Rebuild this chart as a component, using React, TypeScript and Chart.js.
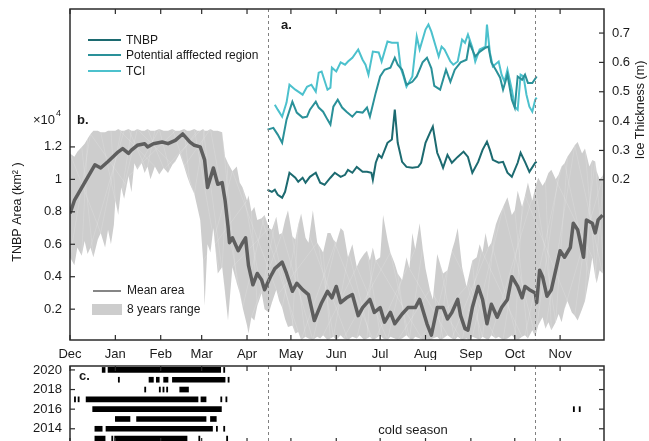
import React, { useEffect, useRef } from "react";
import { Chart, registerables } from "chart.js";

Chart.register(...registerables);

const FONT = "'Liberation Sans', Arial, Helvetica, sans-serif";

// ---------------- data ----------------
const monthLabels = ["Dec", "Jan", "Feb", "Mar", "Apr", "May", "Jun", "Jul", "Aug", "Sep", "Oct", "Nov"];
const monthStartDays = [0, 31, 62, 90, 121, 151, 182, 212, 243, 274, 304, 335];
const seasonBoundaryDays = [135, 318];
const areaTickValues = [0.2, 0.4, 0.6, 0.8, 1, 1.2];
const thicknessTickValues = [0.2, 0.3, 0.4, 0.5, 0.6, 0.7];
const yearTickValues = [2014, 2016, 2018, 2020];

// Mean TNBP area (x10^4 km^2), days since 1 Dec
const meanDays = [0, 3, 10, 17, 21, 26, 33, 36, 40, 42, 46, 51, 53, 57, 63, 67, 72, 77, 82, 85, 89, 92, 94, 98, 101, 104, 106, 108, 109, 111, 115, 118, 120, 122, 125, 128, 131, 133, 137, 140, 145, 148, 152, 155, 159, 163, 167, 172, 176, 179, 182, 185, 189, 193, 197, 200, 205, 208, 212, 215, 219, 222, 227, 231, 236, 239, 244, 247, 251, 255, 258, 261, 265, 267, 270, 272, 275, 279, 282, 285, 288, 292, 295, 299, 302, 306, 309, 311, 314, 318, 319, 321, 323, 326, 329, 332, 335, 338, 342, 344, 347, 351, 353, 357, 359, 361, 364];
const meanArea = [0.79, 0.87, 0.98, 1.09, 1.07, 1.11, 1.17, 1.19, 1.16, 1.18, 1.21, 1.22, 1.20, 1.22, 1.23, 1.22, 1.24, 1.28, 1.23, 1.21, 1.20, 1.12, 0.95, 1.07, 0.97, 0.98, 0.87, 0.71, 0.61, 0.64, 0.56, 0.61, 0.64, 0.47, 0.35, 0.42, 0.38, 0.32, 0.40, 0.45, 0.49, 0.42, 0.31, 0.36, 0.32, 0.29, 0.13, 0.24, 0.31, 0.27, 0.34, 0.24, 0.27, 0.29, 0.16, 0.21, 0.26, 0.18, 0.21, 0.12, 0.18, 0.11, 0.17, 0.21, 0.21, 0.26, 0.11, 0.04, 0.21, 0.21, 0.14, 0.18, 0.26, 0.16, 0.08, 0.07, 0.21, 0.34, 0.26, 0.11, 0.23, 0.15, 0.21, 0.26, 0.40, 0.34, 0.27, 0.34, 0.32, 0.30, 0.24, 0.44, 0.40, 0.28, 0.32, 0.44, 0.56, 0.52, 0.58, 0.73, 0.69, 0.52, 0.75, 0.73, 0.67, 0.75, 0.78];

// 8 years range (x10^4 km^2)
const rangeDays = [0, 3, 5, 8, 10, 12, 14, 16, 19, 21, 24, 26, 28, 30, 31, 33, 35, 37, 40, 42, 44, 46, 49, 51, 53, 55, 58, 61, 64, 67, 70, 72, 75, 78, 80, 82, 85, 87, 89, 91, 92, 94, 96, 98, 101, 104, 106, 108, 111, 114, 116, 118, 121, 122, 124, 126, 128, 131, 133, 136, 138, 141, 143, 145, 147, 149, 152, 154, 156, 158, 161, 163, 166, 169, 171, 173, 176, 178, 180, 182, 185, 187, 190, 193, 196, 198, 201, 203, 205, 207, 209, 212, 214, 217, 219, 222, 224, 227, 230, 232, 234, 236, 239, 241, 243, 246, 248, 251, 253, 255, 258, 261, 263, 265, 268, 271, 273, 275, 278, 280, 282, 284, 286, 288, 291, 293, 296, 299, 302, 304, 306, 309, 311, 313, 316, 318, 320, 323, 325, 327, 329, 332, 334, 336, 338, 340, 343, 345, 347, 350, 352, 355, 357, 359, 360, 362, 364, 365];
const rangeUpper = [1.16, 1.14, 1.17, 1.20, 1.22, 1.25, 1.28, 1.30, 1.30, 1.29, 1.29, 1.30, 1.30, 1.30, 1.30, 1.31, 1.30, 1.30, 1.31, 1.30, 1.30, 1.31, 1.30, 1.30, 1.31, 1.30, 1.30, 1.31, 1.30, 1.30, 1.31, 1.30, 1.30, 1.31, 1.30, 1.30, 1.31, 1.30, 1.30, 1.31, 1.30, 1.30, 1.31, 1.30, 1.30, 1.29, 1.14, 1.10, 1.05, 1.08, 0.98, 0.95, 0.87, 0.90, 0.80, 0.83, 0.75, 0.76, 0.78, 0.70, 0.69, 0.77, 0.66, 0.67, 0.75, 0.81, 0.65, 0.63, 0.72, 0.79, 0.64, 0.61, 0.81, 0.61, 0.58, 0.55, 0.67, 0.67, 0.63, 0.61, 0.70, 0.68, 0.52, 0.60, 0.46, 0.50, 0.54, 0.56, 0.50, 0.58, 0.50, 0.52, 0.78, 0.63, 0.55, 0.48, 0.42, 0.38, 0.52, 0.45, 0.67, 0.57, 0.73, 0.58, 0.45, 0.32, 0.26, 0.54, 0.48, 0.42, 0.44, 0.56, 0.62, 0.70, 0.46, 0.34, 0.42, 0.50, 0.52, 0.60, 0.55, 0.67, 0.58, 0.61, 0.72, 0.77, 0.83, 0.89, 0.78, 0.81, 0.93, 0.83, 0.90, 0.98, 0.87, 0.95, 1.01, 0.96, 0.99, 1.04, 1.06, 1.00, 1.03, 1.08, 1.10, 1.14, 1.18, 1.21, 1.23, 1.16, 1.19, 1.08, 1.12, 1.11, 1.05, 1.00, 1.02, 1.04];
const rangeLower = [0.52, 0.47, 0.58, 0.53, 0.62, 0.54, 0.58, 0.52, 0.63, 0.67, 0.58, 0.69, 0.60, 0.72, 0.87, 0.78, 0.95, 0.88, 1.02, 0.92, 1.10, 1.06, 1.10, 1.04, 1.08, 1.00, 1.08, 1.03, 1.07, 1.04, 1.09, 1.11, 1.16, 1.08, 1.02, 0.97, 0.91, 0.83, 0.75, 0.50, 0.22, 0.60, 0.55, 0.70, 0.42, 0.46, 0.30, 0.13, 0.46, 0.36, 0.30, 0.21, 0.10, 0.05, 0.15, 0.13, 0.22, 0.30, 0.20, 0.18, 0.24, 0.32, 0.25, 0.21, 0.14, 0.09, 0.10, 0.05, 0.06, 0.01, 0.03, 0.02, 0.01, 0.03, 0.02, 0.04, 0.01, 0.02, 0.03, 0.01, 0.04, 0.02, 0.01, 0.03, 0.02, 0.04, 0.01, 0.02, 0.03, 0.01, 0.02, 0.04, 0.02, 0.01, 0.03, 0.02, 0.01, 0.02, 0.04, 0.02, 0.01, 0.03, 0.02, 0.01, 0.02, 0.01, 0.02, 0.03, 0.01, 0.02, 0.04, 0.02, 0.01, 0.03, 0.01, 0.02, 0.01, 0.03, 0.02, 0.01, 0.03, 0.02, 0.01, 0.04, 0.02, 0.03, 0.01, 0.02, 0.04, 0.02, 0.01, 0.03, 0.04, 0.02, 0.07, 0.03, 0.10, 0.15, 0.08, 0.12, 0.07, 0.12, 0.17, 0.12, 0.20, 0.25, 0.18, 0.16, 0.13, 0.20, 0.25, 0.40, 0.52, 0.40, 0.36, 0.44, 0.42, 0.45];

// Ice thickness (m), 15 Apr - 15 Oct
const tnbpDays = [135, 138, 140, 142, 145, 147, 150, 154, 156, 159, 161, 164, 168, 171, 174, 178, 181, 185, 188, 190, 193, 196, 200, 203, 206, 207, 209, 211, 213, 217, 220, 222, 224, 227, 230, 234, 238, 240, 243, 246, 248, 251, 253, 255, 258, 261, 265, 269, 272, 275, 279, 282, 285, 287, 289, 293, 296, 299, 302, 306, 308, 311, 314, 318, 319];
const tnbpThickness = [0.166, 0.159, 0.166, 0.149, 0.139, 0.159, 0.224, 0.207, 0.193, 0.207, 0.19, 0.21, 0.224, 0.19, 0.183, 0.207, 0.224, 0.21, 0.217, 0.234, 0.224, 0.244, 0.227, 0.227, 0.224, 0.2, 0.258, 0.285, 0.275, 0.326, 0.337, 0.439, 0.326, 0.261, 0.244, 0.241, 0.244, 0.258, 0.326, 0.36, 0.381, 0.292, 0.268, 0.241, 0.285, 0.258, 0.278, 0.296, 0.278, 0.224, 0.261, 0.302, 0.33, 0.302, 0.268, 0.258, 0.261, 0.224, 0.21, 0.258, 0.292, 0.261, 0.227, 0.258, 0.261];

const regionDays = [135, 139, 142, 145, 148, 152, 155, 159, 162, 164, 168, 170, 173, 176, 178, 180, 183, 186, 189, 193, 196, 200, 203, 205, 209, 212, 215, 219, 222, 224, 227, 230, 234, 237, 241, 244, 247, 249, 253, 257, 260, 263, 267, 271, 273, 277, 280, 284, 286, 288, 291, 294, 296, 299, 302, 304, 306, 309, 311, 313, 316, 319];
const regionThickness = [0.371, 0.377, 0.354, 0.326, 0.405, 0.466, 0.429, 0.412, 0.415, 0.439, 0.466, 0.446, 0.432, 0.405, 0.388, 0.449, 0.473, 0.446, 0.432, 0.415, 0.432, 0.429, 0.446, 0.415, 0.497, 0.552, 0.575, 0.582, 0.616, 0.592, 0.575, 0.524, 0.534, 0.552, 0.60, 0.616, 0.58, 0.52, 0.507, 0.575, 0.534, 0.575, 0.60, 0.609, 0.667, 0.62, 0.636, 0.65, 0.654, 0.60, 0.575, 0.548, 0.507, 0.558, 0.473, 0.446, 0.552, 0.541, 0.558, 0.53, 0.53, 0.552];

const tciDays = [140, 142, 145, 148, 150, 154, 157, 159, 162, 165, 168, 170, 172, 176, 178, 179, 182, 185, 188, 190, 193, 197, 200, 202, 204, 207, 211, 213, 217, 220, 224, 226, 228, 230, 234, 237, 239, 243, 245, 247, 250, 252, 254, 256, 260, 262, 265, 268, 270, 272, 275, 277, 280, 284, 285, 287, 289, 293, 295, 297, 299, 302, 304, 306, 308, 310, 312, 314, 316, 318, 319];
const tciThickness = [0.456, 0.439, 0.415, 0.463, 0.524, 0.507, 0.497, 0.49, 0.517, 0.524, 0.5, 0.565, 0.569, 0.507, 0.514, 0.582, 0.569, 0.6, 0.592, 0.603, 0.616, 0.644, 0.609, 0.592, 0.558, 0.637, 0.634, 0.603, 0.671, 0.667, 0.667, 0.582, 0.552, 0.517, 0.552, 0.688, 0.644, 0.712, 0.729, 0.705, 0.654, 0.62, 0.654, 0.644, 0.603, 0.592, 0.603, 0.678, 0.667, 0.695, 0.651, 0.603, 0.644, 0.654, 0.729, 0.634, 0.586, 0.603, 0.558, 0.534, 0.575, 0.507, 0.449, 0.439, 0.558, 0.552, 0.49, 0.449, 0.432, 0.473, 0.48];

// Panel c: ice-cover events per year (start / end day)
const eventYears = [2020, 2020, 2020, 2019, 2019, 2019, 2019, 2019, 2019, 2018, 2018, 2018, 2018, 2018, 2017, 2017, 2017, 2017, 2017, 2017, 2016, 2016, 2016, 2015, 2015, 2015, 2014, 2014, 2014, 2014, 2013, 2013, 2013, 2013, 2013];
const eventStart = [22, 26, 105, 33, 54, 59, 64, 70, 108, 51, 61, 63.5, 66, 75, 3, 5.5, 11, 89.5, 103, 106.5, 15.5, 344, 348, 31, 45.5, 96, 17, 24.6, 100, 105, 17, 28.5, 30.5, 88, 107];
const eventEnd = [24, 103, 105.8, 33.8, 57, 61, 67, 106, 108.8, 51.8, 61.8, 64.3, 66.8, 81, 3.8, 6.3, 87.5, 93, 103.8, 107.3, 103.5, 344.8, 348.8, 41, 93, 100, 22, 97.4, 100.8, 105.8, 24, 29.3, 80, 88.8, 107.8];

// ---------------- styles ----------------
const COLOR_TNBP = "#1c6a70";
const COLOR_REGION = "#2a9199";
const COLOR_TCI = "#4cc1cd";
const COLOR_MEAN = "#5e5e5e";
const COLOR_BAND = "#cdcdcd";
const COLOR_FRAME = "#2b2b2b";
const COLOR_TEXT = "#1a1a1a";

const toPoints = (xs: number[], ys: number[]) => xs.map((x, i) => ({ x, y: ys[i] }));

function seg(ctx: CanvasRenderingContext2D, x1: number, y1: number, x2: number, y2: number) {
  ctx.beginPath();
  ctx.moveTo(x1, y1);
  ctx.lineTo(x2, y2);
  ctx.stroke();
}

const bandMesh = {
  id: "bandMesh",
  afterDatasetDraw(chart: any, args: any) {
    if (args.index !== 4) return;
    const { ctx, scales } = chart;
    const x = scales.x, y = scales.y;
    const up = rangeDays.map((d, i) => [x.getPixelForValue(d), y.getPixelForValue(rangeUpper[i])]);
    const lo = rangeDays.map((d, i) => [x.getPixelForValue(d), y.getPixelForValue(rangeLower[i])]);
    ctx.save();
    ctx.beginPath();
    up.forEach((p, i) => (i ? ctx.lineTo(p[0], p[1]) : ctx.moveTo(p[0], p[1])));
    for (let i = lo.length - 1; i >= 0; i--) ctx.lineTo(lo[i][0], lo[i][1]);
    ctx.closePath();
    ctx.clip();
    ctx.strokeStyle = "rgba(255,255,255,0.3)";
    ctx.lineWidth = 0.5;
    const n = up.length;
    const offs = [9, 4, 13, 6, 2, 11, 7];
    for (let i = 0, c = 0; i < n; i += 3, c++) {
      const j = Math.min(n - 1, i + offs[c % offs.length]);
      seg(ctx, up[i][0], up[i][1], lo[j][0], lo[j][1]);
      const k = Math.min(n - 1, i + offs[(c + 3) % offs.length]);
      seg(ctx, lo[i][0], lo[i][1], up[k][0], up[k][1]);
    }
    ctx.restore();
  },
};

const mainDecor = {
  id: "mainDecor",
  afterDraw(chart: any) {
    const { ctx, chartArea, scales } = chart;
    const { left, top, right, bottom } = chartArea;
    const x = scales.x, y = scales.y, y2 = scales.y2;
    ctx.save();
    // season boundaries
    ctx.strokeStyle = "#808080";
    ctx.lineWidth = 1;
    ctx.setLineDash([3, 3]);
    seasonBoundaryDays.forEach((d) => {
      const px = Math.round(x.getPixelForValue(d)) + 0.5;
      seg(ctx, px, top, px, bottom);
    });
    ctx.setLineDash([]);
    // frame and inward ticks
    ctx.strokeStyle = COLOR_FRAME;
    ctx.lineWidth = 1.5;
    ctx.strokeRect(left, top, right - left, bottom - top);
    ctx.lineWidth = 1.2;
    monthStartDays.forEach((d) => {
      const px = x.getPixelForValue(d);
      seg(ctx, px, bottom, px, bottom - 5);
      seg(ctx, px, top, px, top + 5);
    });
    areaTickValues.forEach((v) => {
      const py = y.getPixelForValue(v);
      seg(ctx, left, py, left + 5, py);
    });
    thicknessTickValues.forEach((v) => {
      const py = y2.getPixelForValue(v);
      seg(ctx, right, py, right - 5, py);
    });

    // tick labels
    ctx.fillStyle = COLOR_TEXT;
    ctx.font = `13px ${FONT}`;
    ctx.textBaseline = "middle";
    ctx.textAlign = "center";
    monthStartDays.forEach((d, i) => ctx.fillText(monthLabels[i], x.getPixelForValue(d), bottom + 14));
    ctx.textAlign = "right";
    areaTickValues.forEach((v) => ctx.fillText(String(v), left - 8, y.getPixelForValue(v)));
    ctx.textAlign = "left";
    thicknessTickValues.forEach((v) => ctx.fillText(v.toFixed(1), right + 8, y2.getPixelForValue(v)));

    // panel labels
    ctx.font = `bold 13px ${FONT}`;
    ctx.fillText("a.", 281, 25);
    ctx.fillText("b.", 77, 120);

    // x10^4
    ctx.font = `13px ${FONT}`;
    ctx.fillText("\u00d710", 33, 120);
    ctx.font = `9px ${FONT}`;
    ctx.fillText("4", 56, 114);

    // legend a
    const legA = [
      ["TNBP", COLOR_TNBP, 41],
      ["Potential afffected region", COLOR_REGION, 56],
      ["TCI", COLOR_TCI, 72],
    ] as [string, string, number][];
    legA.forEach(([label, color, ly]) => {
      ctx.strokeStyle = color;
      ctx.lineWidth = 2;
      seg(ctx, 88, ly - 1, 121, ly - 1);
      ctx.fillStyle = COLOR_TEXT;
      ctx.font = `12px ${FONT}`;
      ctx.fillText(label, 126, ly);
    });

    // legend b
    ctx.strokeStyle = COLOR_MEAN;
    ctx.lineWidth = 1.5;
    seg(ctx, 93, 291, 121, 291);
    ctx.fillStyle = COLOR_BAND;
    ctx.fillRect(92, 304, 30, 11);
    ctx.fillStyle = COLOR_TEXT;
    ctx.font = `12px ${FONT}`;
    ctx.fillText("Mean area", 127, 291);
    ctx.fillText("8 years range", 127, 310);

    // axis titles
    ctx.font = `12.5px ${FONT}`;
    ctx.textAlign = "center";
    ctx.save();
    ctx.translate(18, 212);
    ctx.rotate(-Math.PI / 2);
    ctx.fillText("TNBP Area (km\u00b2 )", 0, 0);
    ctx.restore();
    ctx.save();
    ctx.translate(641, 110);
    ctx.rotate(-Math.PI / 2);
    ctx.fillText("Ice Thickness (m)", 0, 0);
    ctx.restore();
    ctx.restore();
  },
};

const timelineDecor = {
  id: "timelineDecor",
  afterDraw(chart: any) {
    const { ctx, chartArea, scales } = chart;
    const { left, top, right, bottom } = chartArea;
    const x = scales.x, y = scales.y;
    ctx.save();
    ctx.strokeStyle = "#808080";
    ctx.lineWidth = 1;
    ctx.setLineDash([3, 3]);
    seasonBoundaryDays.forEach((d) => {
      const px = Math.round(x.getPixelForValue(d)) + 0.5;
      seg(ctx, px, top, px, bottom);
    });
    ctx.setLineDash([]);
    ctx.strokeStyle = COLOR_FRAME;
    ctx.lineWidth = 1.5;
    ctx.strokeRect(left, top, right - left, bottom - top);
    ctx.lineWidth = 1.2;
    monthStartDays.forEach((d) => {
      const px = x.getPixelForValue(d);
      seg(ctx, px, top, px, top + 5);
      seg(ctx, px, bottom, px, bottom - 5);
    });
    yearTickValues.forEach((v) => {
      const py = y.getPixelForValue(v);
      seg(ctx, left, py, left + 5, py);
      seg(ctx, right, py, right - 5, py);
    });
    ctx.fillStyle = COLOR_TEXT;
    ctx.textBaseline = "middle";
    ctx.font = `13px ${FONT}`;
    ctx.textAlign = "right";
    yearTickValues.forEach((v) => ctx.fillText(String(v), left - 8, y.getPixelForValue(v)));
    ctx.textAlign = "left";
    ctx.font = `bold 13px ${FONT}`;
    ctx.fillText("c.", 79, top + 10);
    ctx.font = `13px ${FONT}`;
    ctx.textAlign = "center";
    ctx.fillText("cold season", 413, top + 64);
    ctx.restore();
  },
};

export default function App() {
  const mainRef = useRef<HTMLCanvasElement>(null);
  const lineRef = useRef<HTMLCanvasElement>(null);

  useEffect(() => {
    const main = new Chart(mainRef.current!, {
      type: "line",
      data: {
        datasets: [
          { label: "TNBP", data: toPoints(tnbpDays, tnbpThickness), yAxisID: "y2", borderColor: COLOR_TNBP, borderWidth: 2, pointRadius: 0, fill: false },
          { label: "Potential afffected region", data: toPoints(regionDays, regionThickness), yAxisID: "y2", borderColor: COLOR_REGION, borderWidth: 2, pointRadius: 0, fill: false },
          { label: "TCI", data: toPoints(tciDays, tciThickness), yAxisID: "y2", borderColor: COLOR_TCI, borderWidth: 2, pointRadius: 0, fill: false },
          { label: "Mean area", data: toPoints(meanDays, meanArea), yAxisID: "y", borderColor: COLOR_MEAN, borderWidth: 3.5, pointRadius: 0, fill: false, borderJoinStyle: "round" },
          { label: "8 years range", data: toPoints(rangeDays, rangeUpper), yAxisID: "y", borderColor: "rgba(0,0,0,0)", borderWidth: 0, pointRadius: 0, backgroundColor: COLOR_BAND, fill: "+1" },
          { label: "range lower", data: toPoints(rangeDays, rangeLower), yAxisID: "y", borderColor: "rgba(0,0,0,0)", borderWidth: 0, pointRadius: 0, fill: false },
        ],
      },
      options: {
        responsive: false,
        animation: false,
        devicePixelRatio: 1,
        layout: { padding: { top: 9, left: 70, right: 45, bottom: 20 } },
        plugins: { legend: { display: false }, tooltip: { enabled: false } },
        elements: { line: { tension: 0 }, point: { radius: 0 } },
        scales: {
          x: { type: "linear", min: 0, max: 365, display: false },
          y: { type: "linear", position: "left", min: 0.01, max: 2.05, display: false },
          y2: { type: "linear", position: "right", min: -0.346, max: 0.782, display: false },
        },
      } as any,
      plugins: [bandMesh, mainDecor],
    });

    const timeline = new Chart(lineRef.current!, {
      type: "bar",
      data: {
        datasets: [
          {
            label: "ice events",
            data: eventYears.map((yr, i) => ({ x: [eventStart[i], eventEnd[i]], y: yr })) as any,
            backgroundColor: "#000000",
            borderWidth: 0,
            barThickness: 5,
          },
        ],
      },
      options: {
        indexAxis: "y",
        responsive: false,
        animation: false,
        devicePixelRatio: 1,
        layout: { padding: { top: 8, left: 70, right: 45, bottom: 5 } },
        plugins: { legend: { display: false }, tooltip: { enabled: false } },
        scales: {
          x: { type: "linear", min: 0, max: 365, display: false },
          y: { type: "linear", min: 2012.55, max: 2020.4, display: false, offset: false },
        },
      } as any,
      plugins: [timelineDecor],
    });

    return () => {
      main.destroy();
      timeline.destroy();
    };
  }, []);

  return (
    <div style={{ position: "absolute", left: 0, top: 0, width: 649, height: 441, overflow: "hidden", background: "#ffffff" }}>
      <canvas ref={mainRef} width={649} height={360} style={{ position: "absolute", left: 0, top: 0, width: 649, height: 360 }} />
      <canvas ref={lineRef} width={649} height={90} style={{ position: "absolute", left: 0, top: 358, width: 649, height: 90 }} />
    </div>
  );
}
